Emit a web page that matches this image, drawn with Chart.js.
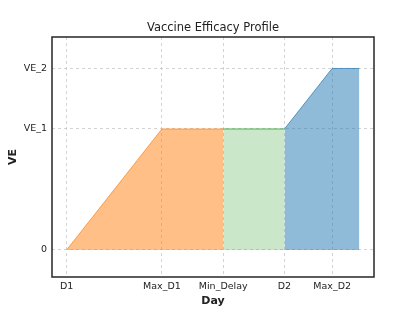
<!DOCTYPE html>
<html>
<head>
<meta charset="utf-8">
<script src="https://cdn.jsdelivr.net/npm/chart.js@4"></script>
<style>
html,body{margin:0;padding:0;background:#fff;}
#wrap{width:416px;height:312px;}
</style>
</head>
<body>
<div id="wrap"><canvas id="c" width="416" height="312"></canvas></div>
<script>
// Tick positions (days) and labels
const xTickValues = [0, 14, 23, 32, 39];
const xTickLabels = ["D1", "Max_D1", "Min_Delay", "D2", "Max_D2"];
const yTickValues = [0, 0.6, 0.9];
const yTickLabels = ["0", "VE_1", "VE_2"];
const chartTitle = "Vaccine Efficacy Profile";

// Segments of the profile
const doseOneX = [0, 14, 23];
const doseOneY = [0, 0.6, 0.6];
const delayX = [23, 32];
const delayY = [0.6, 0.6];
const doseTwoX = [32, 39, 43];
const doseTwoY = [0.6, 0.9, 0.9];

const pts = (xs, ys) => xs.map((x, i) => ({x: x, y: ys[i]}));

const FONT = "'DejaVu Sans', sans-serif";

const frame = {
  id: 'frame',
  afterDraw(chart) {
    const a = chart.chartArea, ctx = chart.ctx;
    ctx.save();
    ctx.strokeStyle = '#262626';
    ctx.lineWidth = 1.5;
    ctx.strokeRect(a.left, a.top, a.right - a.left, a.bottom - a.top);
    ctx.fillStyle = '#222';
    ctx.font = "11.5px " + FONT;
    ctx.textAlign = 'center';
    ctx.textBaseline = 'middle';
    ctx.fillText(chartTitle, (a.left + a.right) / 2, 28);
    ctx.restore();
  }
};

new Chart(document.getElementById('c'), {
  type: 'line',
  data: {
    datasets: [
      {data: pts(doseOneX, doseOneY), borderColor: 'rgba(255,127,14,0.7)', backgroundColor: 'rgba(255,127,14,0.5)', borderWidth: 1, fill: {value: 0}, pointRadius: 0, tension: 0},
      {data: pts(delayX, delayY), borderColor: 'rgba(44,160,44,0.8)', backgroundColor: 'rgba(44,160,44,0.25)', borderWidth: 1, fill: {value: 0}, pointRadius: 0, tension: 0},
      {data: pts(doseTwoX, doseTwoY), borderColor: 'rgba(31,119,180,0.7)', backgroundColor: 'rgba(31,119,180,0.5)', borderWidth: 1, fill: {value: 0}, pointRadius: 0, tension: 0}
    ]
  },
  options: {
    responsive: false,
    animation: false,
    devicePixelRatio: 1,
    layout: {padding: {left: 0, right: 42, top: 37, bottom: 0}},
    plugins: {
      legend: {display: false},
      tooltip: {enabled: false},
      title: {display: false}
    },
    scales: {
      x: {
        type: 'linear',
        min: -2.15,
        max: 45.15,
        afterBuildTicks(scale) { scale.ticks = xTickValues.map(v => ({value: v})); },
        afterFit(scale) { scale.height = 35; },
        ticks: {
          autoSkip: false,
          maxRotation: 0,
          padding: 4,
          color: '#222',
          font: {family: FONT, size: 9.5},
          callback: (v) => { const i = xTickValues.indexOf(v); return i >= 0 ? xTickLabels[i] : ''; }
        },
        grid: {color: '#c8c8c8', lineWidth: 0.8, drawTicks: false},
        border: {display: false, dash: [3, 3]},
        title: {display: true, text: 'Day', color: '#222', font: {family: FONT, size: 11, weight: 'bold'}, padding: {top: 0, bottom: 4}}
      },
      y: {
        type: 'linear',
        min: -0.134,
        max: 1.056,
        afterBuildTicks(scale) { scale.ticks = yTickValues.map(v => ({value: v})); },
        afterFit(scale) { scale.width = 52; },
        ticks: {
          autoSkip: false,
          padding: 5,
          color: '#222',
          font: {family: FONT, size: 9.5},
          callback: (v) => { const i = yTickValues.indexOf(v); return i >= 0 ? yTickLabels[i] : ''; }
        },
        grid: {color: '#c8c8c8', lineWidth: 0.8, drawTicks: false},
        border: {display: false, dash: [3, 3]},
        title: {display: true, text: 'VE', color: '#222', font: {family: FONT, size: 11, weight: 'bold'}, padding: {top: 7, bottom: 0}}
      }
    }
  },
  plugins: [frame]
});
</script>
</body>
</html>
